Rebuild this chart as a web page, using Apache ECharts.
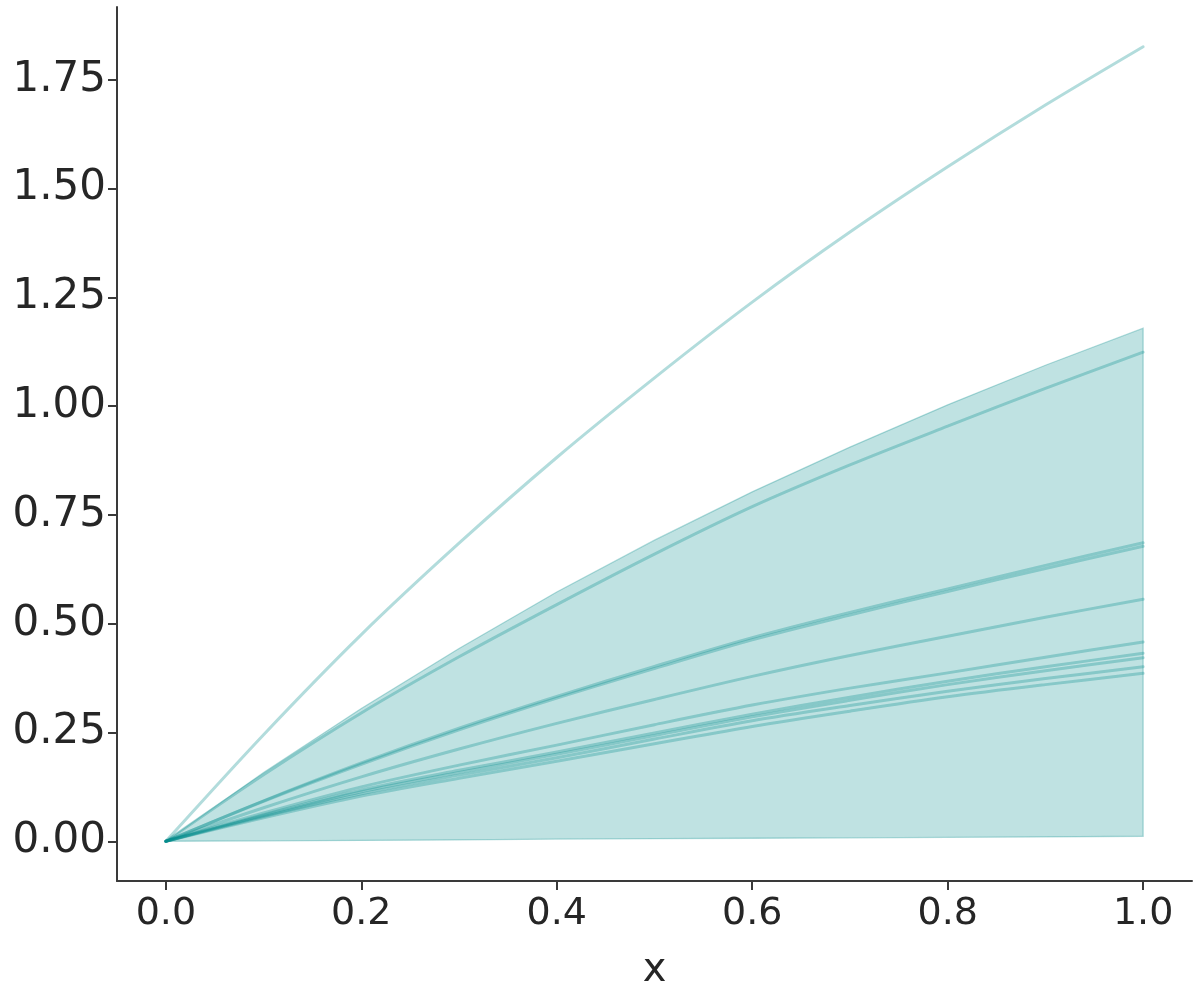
<!DOCTYPE html>
<html>
<head>
<meta charset="utf-8">
<script src="https://cdn.jsdelivr.net/npm/echarts@6/dist/echarts.min.js"></script>
<style>
  html, body { margin: 0; padding: 0; background: #fff; }
  #main { width: 1200px; height: 1000px; }
</style>
</head>
<body>
<div id="main"></div>
<script>
// x positions where the curves were read
var xs = [0, 0.1, 0.2, 0.3, 0.4, 0.5, 0.6, 0.7, 0.8, 0.9, 1.0];
// shaded band, lower and upper edge
var bandLow = [0, 0.001, 0.002, 0.003, 0.005, 0.006, 0.007, 0.008, 0.009, 0.010, 0.0115];
var bandHigh = [0, 0.158, 0.305, 0.443, 0.573, 0.692, 0.803, 0.906, 1.003, 1.094, 1.179];
// the individual curves
var curve1 = [0, 0.245, 0.475, 0.685, 0.882, 1.065, 1.239, 1.400, 1.550, 1.692, 1.826];
var curve2 = [0, 0.153, 0.295, 0.424, 0.544, 0.660, 0.769, 0.865, 0.954, 1.041, 1.124];
var curve3 = [0, 0.093, 0.180, 0.260, 0.333, 0.402, 0.468, 0.526, 0.580, 0.634, 0.686];
var curve4 = [0, 0.092, 0.177, 0.256, 0.329, 0.397, 0.463, 0.520, 0.574, 0.627, 0.678];
var curve5 = [0, 0.077, 0.148, 0.212, 0.271, 0.326, 0.379, 0.427, 0.471, 0.515, 0.556];
var curve6 = [0, 0.065, 0.125, 0.175, 0.221, 0.268, 0.313, 0.352, 0.387, 0.423, 0.458];
var curve7 = [0, 0.061, 0.118, 0.163, 0.205, 0.249, 0.292, 0.331, 0.368, 0.401, 0.432];
var curve8 = [0, 0.059, 0.114, 0.158, 0.200, 0.243, 0.286, 0.324, 0.360, 0.392, 0.422];
var curve9 = [0, 0.057, 0.109, 0.152, 0.192, 0.235, 0.277, 0.312, 0.345, 0.374, 0.401];
var curve10 = [0, 0.054, 0.104, 0.145, 0.184, 0.224, 0.264, 0.299, 0.332, 0.360, 0.386];
// tick labels
var xTicks = [0, 0.2, 0.4, 0.6, 0.8, 1.0];
var yTicks = [0, 0.25, 0.5, 0.75, 1.0, 1.25, 1.5, 1.75];

var curves = [curve1, curve2, curve3, curve4, curve5, curve6, curve7, curve8, curve9, curve10];

var chart = echarts.init(document.getElementById('main'));

function pairs(ys) {
    return xs.map(function (x, i) { return [x, ys[i]]; });
}

var series = [];
// band as one polygon: upper edge forward, lower edge back
series.push({
    type: 'custom',
    data: [[0, 0]],
    clip: true,
    z: 1,
    renderItem: function (params, api) {
        var pts = [];
        xs.forEach(function (x, i) { pts.push(api.coord([x, bandHigh[i]])); });
        for (var i = xs.length - 1; i >= 0; i--) pts.push(api.coord([xs[i], bandLow[i]]));
        return {
            type: 'polygon',
            shape: { points: pts },
            style: {
                fill: 'rgba(0,139,139,0.25)',
                stroke: 'rgba(0,139,139,0.3)',
                lineWidth: 1.3
            }
        };
    }
});
curves.forEach(function (c) {
    series.push({
        type: 'line',
        data: pairs(c),
        smooth: 0.3,
        showSymbol: false,
        lineStyle: { width: 3, color: 'rgba(0,139,139,0.3)', join: 'round', cap: 'round' },
        z: 2
    });
});

var option = {
    animation: false,
    grid: {
        left: 117, right: 8, top: 7, bottom: 119,
        containLabel: false,
        outerBoundsMode: 'none'
    },
    xAxis: {
        type: 'value',
        min: -0.05,
        max: 1.05,
        name: 'x',
        nameLocation: 'middle',
        nameGap: 70,
        nameTextStyle: { fontFamily: 'DejaVu Sans', fontSize: 40, color: '#262626' },
        splitLine: { show: false },
        axisLine: { onZero: false, lineStyle: { color: '#3a3a3a', width: 2 } },
        axisTick: { customValues: xTicks, length: 9, lineStyle: { color: '#3a3a3a', width: 2 } },
        axisLabel: {
            customValues: xTicks,
            margin: 14,
            fontFamily: 'DejaVu Sans', fontSize: 38, color: '#262626',
            formatter: function (v) { return v.toFixed(1); }
        }
    },
    yAxis: {
        type: 'value',
        min: -0.0913,
        max: 1.9173,
        splitLine: { show: false },
        axisLine: { show: true, onZero: false, lineStyle: { color: '#3a3a3a', width: 2 } },
        axisTick: { show: true, customValues: yTicks, length: 9, lineStyle: { color: '#3a3a3a', width: 2 } },
        axisLabel: {
            customValues: yTicks,
            margin: 11,
            fontFamily: 'DejaVu Sans', fontSize: 42, color: '#262626',
            formatter: function (v) { return v.toFixed(2); }
        }
    },
    series: series
};

chart.setOption(option);
</script>
</body>
</html>
